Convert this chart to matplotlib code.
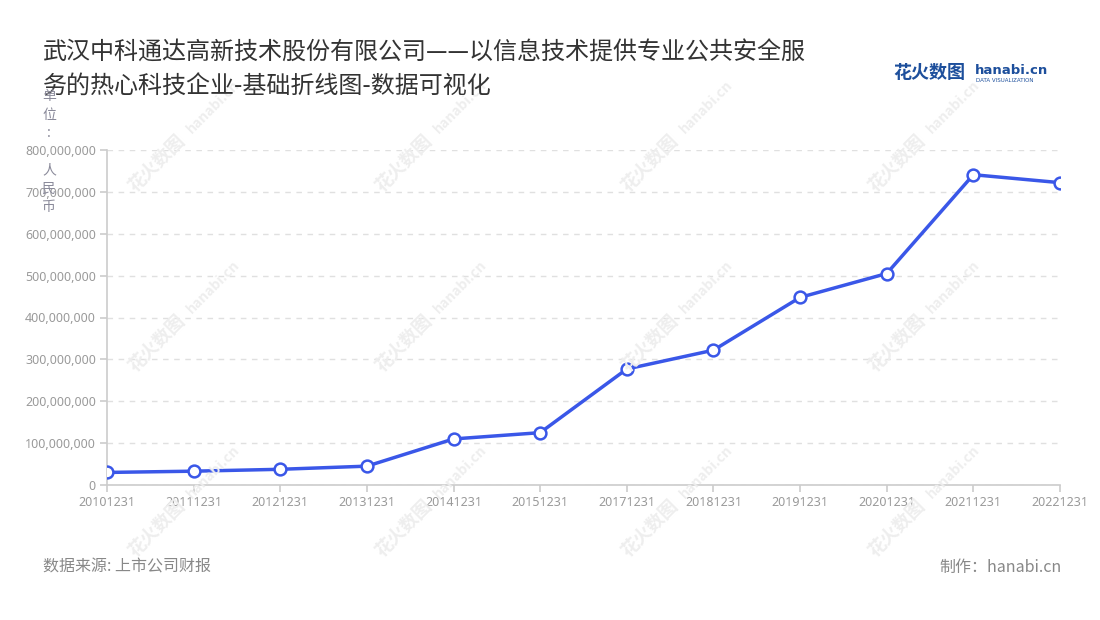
import matplotlib
matplotlib.use("Agg")
import matplotlib.pyplot as plt
from matplotlib.ticker import FuncFormatter, MultipleLocator

plt.rcParams['font.family'] = ['Noto Sans CJK SC', 'DejaVu Sans']

# ---- data ----
dates = ["20101231", "20111231", "20121231", "20131231", "20141231", "20151231",
         "20171231", "20181231", "20191231", "20201231", "20211231", "20221231"]
values = [30e6, 33e6, 37.5e6, 45e6, 110e6, 125e6,
          277e6, 322e6, 448e6, 505e6, 741e6, 722e6]
title_lines = ["武汉中科通达高新技术股份有限公司——以信息技术提供专业公共安全服",
               "务的热心科技企业-基础折线图-数据可视化"]
unit_chars = ["单", "位", ":", "", "人", "民", "币"]
source_text = "数据来源: 上市公司财报"
maker_text = "制作：hanabi.cn"

W, H = 1100, 620
fig = plt.figure(figsize=(W / 100, H / 100), dpi=100)
fig.patch.set_facecolor("white")

def fx(px):
    return px / W

def fy(py):
    return 1 - py / H

ax = fig.add_axes([fx(107), fy(485), fx(1060) - fx(107), fy(150) - fy(485)])
ax.set_facecolor("none")

# watermarks
for cx in [185, 432, 678, 925]:
    for cy in [135, 315, 500]:
        fig.text(fx(cx - 28), fy(cy + 28), "花火数图", rotation=45, fontsize=13,
                 color="#eeeeee", ha="center", va="center", fontweight="bold", zorder=0)
        fig.text(fx(cx + 28), fy(cy - 28), "hanabi.cn", rotation=45, fontsize=10,
                 color="#eeeeee", ha="center", va="center", fontweight="bold", zorder=0)

x = list(range(len(dates)))
line_color = "#3a57e8"
ax.plot(x, values, color=line_color, lw=2.5, zorder=3, solid_joinstyle="round")
ax.plot(x, values, 'o', ms=8.5, mfc="white", mec=line_color, mew=1.8, zorder=4)

ax.set_xlim(0, len(dates) - 1)
ax.set_ylim(0, 800e6)
ax.yaxis.set_major_locator(MultipleLocator(100e6))
ax.yaxis.set_major_formatter(FuncFormatter(lambda v, p: f"{int(v):,}"))
ax.set_xticks(x)
ax.set_xticklabels(dates)

ax.grid(axis="y", color="#e0e0e0", linestyle=(0, (4, 4)), lw=1)
ax.set_axisbelow(True)
for s in ["top", "right"]:
    ax.spines[s].set_visible(False)
for s in ["left", "bottom"]:
    ax.spines[s].set_color("#cccccc")
    ax.spines[s].set_linewidth(1.2)
ax.tick_params(axis="both", colors="#cccccc", labelcolor="#9a9a9a", labelsize=9,
               length=5, width=1.2)
ax.tick_params(axis="x", pad=3)
ax.tick_params(axis="y", pad=3)
for lbl in ax.get_xticklabels() + ax.get_yticklabels():
    lbl.set_family(["Noto Sans", "DejaVu Sans"])

# title
fig.text(fx(43), fy(53), title_lines[0], fontsize=17.3, color="#333333", ha="left", va="center")
fig.text(fx(43), fy(87), title_lines[1], fontsize=17.3, color="#333333", ha="left", va="center")

# unit label stacked vertically
y0 = 96
step = 18.5
for i, ch in enumerate(unit_chars):
    if ch:
        fig.text(fx(49), fy(y0 + i * step), ch, fontsize=10, color="#8a8a9a",
                 ha="center", va="center")

# footer
fig.text(fx(43), fy(567), source_text, fontsize=11.5, color="#888888", ha="left", va="center")
fig.text(fx(1062), fy(567), maker_text, fontsize=11.5, color="#888888", ha="right", va="center")

# logo
fig.text(fx(893), fy(73), "花火数图", fontsize=13, color="#1d4f9c", ha="left", va="center",
         fontweight="bold")
fig.text(fx(975), fy(70), "hanabi.cn", fontsize=9.5, color="#1d4f9c", ha="left", va="center",
         fontweight="bold", family=["DejaVu Sans"])
fig.text(fx(976), fy(80), "DATA VISUALIZATION", fontsize=4, color="#1d4f9c", ha="left",
         va="center", family=["DejaVu Sans"])

fig.savefig("out.png", dpi=100, facecolor="white")
